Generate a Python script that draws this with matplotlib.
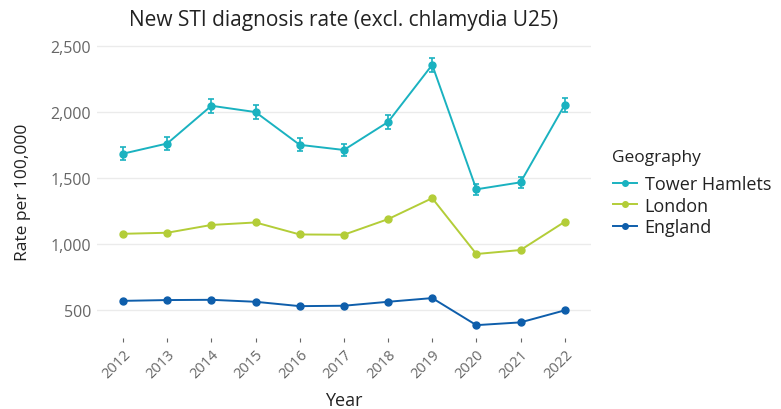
import matplotlib
matplotlib.use("Agg")
import matplotlib.pyplot as plt
from matplotlib.lines import Line2D

years = [2012, 2013, 2014, 2015, 2016, 2017, 2018, 2019, 2020, 2021, 2022]
tower_hamlets = [1685, 1762, 2048, 2000, 1752, 1713, 1925, 2358, 1415, 1468, 2055]
th_err = [48, 48, 52, 50, 48, 47, 50, 55, 42, 43, 52]
london = [1078, 1086, 1145, 1164, 1073, 1071, 1189, 1348, 925, 955, 1169]
england = [570, 576, 578, 563, 530, 533, 563, 591, 386, 407, 498]
series_names = ["Tower Hamlets", "London", "England"]
yticks = [500, 1000, 1500, 2000, 2500]

colors = ["#1AB2C0", "#B3CD38", "#0E5EAB"]
font = ["Open Sans", "DejaVu Sans"]
plt.rcParams['font.family'] = font

fig = plt.figure(figsize=(7.81, 4.10), dpi=100)
ax = fig.add_axes([0.1236, 0.172, 0.757 - 0.1236, 0.889 - 0.172])

x = list(range(len(years)))
ax.errorbar(x, tower_hamlets, yerr=th_err, color=colors[0], lw=1.4, marker='o', ms=5,
            capsize=2.5, elinewidth=1.2, capthick=1.2, zorder=3)
ax.plot(x, london, color=colors[1], lw=1.4, marker='o', ms=5, zorder=3)
ax.plot(x, england, color=colors[2], lw=1.4, marker='o', ms=5, zorder=3)

ax.set_xlim(-0.6, len(years) - 1 + 0.6)
ax.set_ylim(285, 2512)
ax.set_yticks(yticks)
ax.set_yticklabels([f"{v:,}" for v in yticks])
ax.set_xticks(x)
ax.set_xticklabels([str(y) for y in years], rotation=45, ha='right', va='top', rotation_mode='anchor')
ax.grid(axis='y', color='#EBEBEB', lw=1)
ax.set_axisbelow(True)
for s in ax.spines.values():
    s.set_visible(False)
ax.tick_params(axis='y', length=0, colors='#666666', labelsize=11.5, pad=4)
ax.tick_params(axis='x', length=3, colors='#666666', labelsize=10.5, pad=3, width=0.8)
ax.set_xlabel("Year", fontsize=13, color='#222222', labelpad=7)
ax.set_ylabel("Rate per 100,000", fontsize=12.5, color='#222222', labelpad=14)
ax.set_title("New STI diagnosis rate (excl. chlamydia U25)", fontsize=15, color='#222222', pad=14)

fig.text(612 / 781, 1 - 158 / 410, "Geography", fontsize=12.5, color='#222222',
         ha='left', va='center')
handles = [Line2D([0], [0], color=c, lw=1.4, marker='o', ms=4) for c in colors]
leg = fig.legend(handles, series_names, loc='upper left',
                 bbox_to_anchor=(0.785, 1 - 176 / 410), frameon=False, fontsize=13,
                 handlelength=1.3, handletextpad=0.45,
                 labelspacing=0.2, borderaxespad=0, borderpad=0)
for t in leg.get_texts():
    t.set_color('#222222')

fig.savefig("out.png", dpi=100)
